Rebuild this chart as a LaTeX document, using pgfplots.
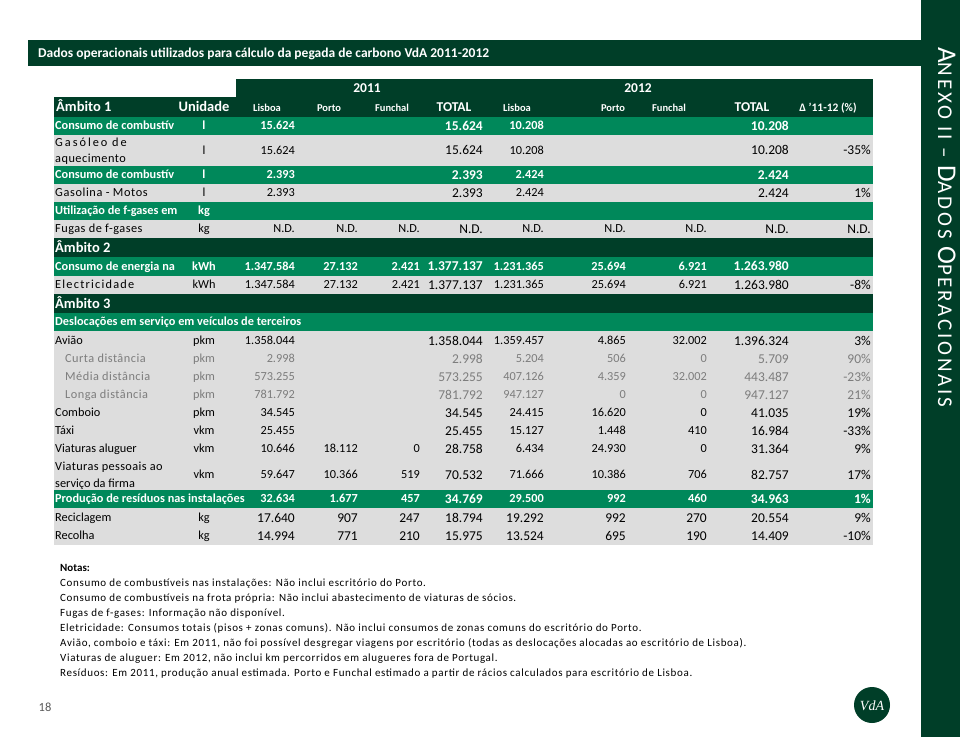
\documentclass[border=0pt]{standalone}
\usepackage{fontspec}
\setmainfont{Carlito}
\newfontfamily\logofont{Liberation Serif}
\usepackage{pgfplots}
\pgfplotsset{compat=1.18}
\definecolor{dkg}{RGB}{0,62,40}
\definecolor{mdg}{RGB}{0,136,90}
\definecolor{lgr}{RGB}{221,221,221}
\definecolor{txg}{RGB}{125,125,125}
\definecolor{pgn}{RGB}{90,90,90}
\newcommand{\lsp}[1]{\addfontfeature{LetterSpace=#1}}
\tikzset{
 c/.style={inner sep=0pt, text height=7.9pt, text depth=0pt},
 wb/.style={c, text=white, font=\bfseries\fontsize{12.3}{12.3}\selectfont},
 wbT/.style={c, text=white, font=\bfseries\fontsize{13.5}{13.5}\selectfont, text height=8.7pt},
 wbH/.style={c, text=white, font=\bfseries\fontsize{14.5}{14.5}\selectfont, text height=9.3pt},
 k/.style={c, text=black, font=\fontsize{12.3}{12.3}\selectfont},
 kT/.style={c, text=black, font=\fontsize{13.5}{13.5}\selectfont, text height=8.7pt},
 g/.style={c, text=txg, font=\fontsize{12.3}{12.3}\selectfont},
 gT/.style={c, text=txg, font=\fontsize{13.5}{13.5}\selectfont, text height=8.7pt},
 hd/.style={c, text=white, font=\bfseries\fontsize{10.5}{10.5}\selectfont, text height=6.8pt},
 nt/.style={inner sep=0pt, anchor=base west, font=\fontsize{11}{11}\selectfont\addfontfeature{LetterSpace=6}},
}
\newcommand{\vA}[7]{%
 \node[anchor=east,#2] at (295,#1) {#4};
 \node[anchor=east,#2] at (358,#1) {#5};
 \node[anchor=east,#2] at (420,#1) {#6};
 \node[anchor=east,#3] at (483,#1) {#7};}
\newcommand{\vB}[8]{%
 \node[anchor=east,#2] at (544,#1) {#4};
 \node[anchor=east,#2] at (626,#1) {#5};
 \node[anchor=east,#2] at (707,#1) {#6};
 \node[anchor=east,#3] at (789,#1) {#7};
 \node[anchor=east,#3] at (871,#1) {#8};}
\newcommand{\lb}[3]{\node[anchor=west,#2] at (55,#1) {#3};}
\newcommand{\un}[3]{\node[#2] at (204,#1) {#3};}
\begin{document}
\begin{tikzpicture}
\begin{axis}[width=960pt,height=737pt,scale only axis,xmin=0,xmax=960,ymin=0,ymax=737,
  y dir=reverse,hide axis,clip=false]
\fill[white] (0,0) rectangle (960,737);
% frame
\fill[dkg] (28,40) rectangle (921,66);
\fill[dkg] (921,0) rectangle (960,737);
\node[anchor=west,inner sep=0pt,text=white,font=\bfseries\fontsize{13.5}{13.5}\selectfont,text height=8.7pt,text depth=0pt] at (38,53) {Dados operacionais utilizados para cálculo da pegada de carbono VdA 2011-2012};
% table backgrounds
\fill[dkg] (236,79) rectangle (873,97);
\fill[dkg] (54,97) rectangle (873,117);
\fill[mdg] (54,117) rectangle (873,135);
\fill[lgr] (54,135) rectangle (873,166);
\fill[mdg] (54,166) rectangle (873,184);
\fill[lgr] (54,184) rectangle (873,202);
\fill[mdg] (54,202) rectangle (873,220);
\fill[lgr] (54,220) rectangle (873,238);
\fill[dkg] (54,238) rectangle (873,257);
\fill[mdg] (54,257) rectangle (873,276);
\fill[lgr] (54,276) rectangle (873,294);
\fill[dkg] (54,294) rectangle (873,313);
\fill[mdg] (54,313) rectangle (873,331);
\fill[lgr] (54,331) rectangle (873,490);
\fill[mdg] (54,490) rectangle (873,508);
\fill[lgr] (54,508) rectangle (873,545);
% header
\node[wbT] at (367,88) {2011};
\node[wbT] at (638,88) {2012};
\node[anchor=west,wbH] at (56,107) {Âmbito 1};
\node[wbH] at (204,107) {Unidade};
\node[hd] at (267,108) {Lisboa};
\node[hd] at (329,108) {Porto};
\node[hd] at (392,108) {Funchal};
\node[wbT] at (454,107) {TOTAL};
\node[hd] at (517,108) {Lisboa};
\node[hd] at (613,108) {Porto};
\node[hd] at (669,108) {Funchal};
\node[wbT] at (752,107) {TOTAL};
\node[hd,font=\bfseries\fontsize{11.5}{11.5}\selectfont] at (828,108) {Δ '11-12 (\%)};
% rows
\lb{126}{wb}{Consumo de combustív}\un{126}{wb}{l}
\vA{126}{wb}{wbT}{15.624}{}{}{15.624}\vB{126}{wb}{wbT}{10.208}{}{}{10.208}{}
\lb{143}{k}{\lsp{16}Gasóleo de}\lb{159}{k}{\lsp{4}aquecimento}\un{150.5}{k}{l}
\vA{150.5}{k}{kT}{15.624}{}{}{15.624}\vB{150.5}{k}{kT}{10.208}{}{}{10.208}{-35\%}
\lb{175}{wb}{Consumo de combustív}\un{175}{wb}{l}
\vA{175}{wb}{wbT}{2.393}{}{}{2.393}\vB{175}{wb}{wbT}{2.424}{}{}{2.424}{}
\lb{193}{k}{\lsp{5}Gasolina - Motos}\un{193}{k}{l}
\vA{193}{k}{kT}{2.393}{}{}{2.393}\vB{193}{k}{kT}{2.424}{}{}{2.424}{1\%}
\lb{211}{wb}{Utilização de f-gases em}\un{211}{wb}{kg}
\lb{229}{k}{\lsp{4}Fugas de f-gases}\un{229}{k}{kg}
\vA{229}{k}{kT}{N.D.}{N.D.}{N.D.}{N.D.}\vB{229}{k}{kT}{N.D.}{N.D.}{N.D.}{N.D.}{N.D.}
\lb{247.5}{wbH}{Âmbito 2}
\lb{266.5}{wb}{Consumo de energia na}\un{266.5}{wb}{kWh}
\vA{266.5}{wb}{wbT}{1.347.584}{27.132}{2.421}{1.377.137}\vB{266.5}{wb}{wbT}{1.231.365}{25.694}{6.921}{1.263.980}{}
\lb{285}{k}{\lsp{10}Electricidade}\un{285}{k}{kWh}
\vA{285}{k}{kT}{1.347.584}{27.132}{2.421}{1.377.137}\vB{285}{k}{kT}{1.231.365}{25.694}{6.921}{1.263.980}{-8\%}
\lb{303.5}{wbH}{Âmbito 3}
\lb{322}{wb}{Deslocações em serviço em veículos de terceiros}
\lb{341}{k}{Avião}\un{341}{k}{pkm}
\vA{341}{k}{kT}{1.358.044}{}{}{1.358.044}\vB{341}{k}{kT}{1.359.457}{4.865}{32.002}{1.396.324}{3\%}
\node[anchor=west,g] at (65,359) {\lsp{4}Curta distância};\un{359}{g}{pkm}
\vA{359}{g}{gT}{2.998}{}{}{2.998}\vB{359}{g}{gT}{5.204}{506}{0}{5.709}{90\%}
\node[anchor=west,g] at (65,377) {\lsp{4}Média distância};\un{377}{g}{pkm}
\vA{377}{g}{gT}{573.255}{}{}{573.255}\vB{377}{g}{gT}{407.126}{4.359}{32.002}{443.487}{-23\%}
\node[anchor=west,g] at (65,395) {\lsp{4}Longa distância};\un{395}{g}{pkm}
\vA{395}{g}{gT}{781.792}{}{}{781.792}\vB{395}{g}{gT}{947.127}{0}{0}{947.127}{21\%}
\lb{413}{k}{Comboio}\un{413}{k}{pkm}
\vA{413}{k}{kT}{34.545}{}{}{34.545}\vB{413}{k}{kT}{24.415}{16.620}{0}{41.035}{19\%}
\lb{431}{k}{Táxi}\un{431}{k}{vkm}
\vA{431}{k}{kT}{25.455}{}{}{25.455}\vB{431}{k}{kT}{15.127}{1.448}{410}{16.984}{-33\%}
\lb{449}{k}{Viaturas aluguer}\un{449}{k}{vkm}
\vA{449}{k}{kT}{10.646}{18.112}{0}{28.758}\vB{449}{k}{kT}{6.434}{24.930}{0}{31.364}{9\%}
\lb{467}{k}{\lsp{3}Viaturas pessoais ao}\lb{484}{k}{serviço da firma}\un{475}{k}{vkm}
\vA{475}{k}{kT}{59.647}{10.366}{519}{70.532}\vB{475}{k}{kT}{71.666}{10.386}{706}{82.757}{17\%}
\lb{499}{wb}{Produção de resíduos nas instalações}
\vA{499}{wb}{wbT}{32.634}{1.677}{457}{34.769}\vB{499}{wb}{wbT}{29.500}{992}{460}{34.963}{1\%}
\lb{518}{k}{Reciclagem}\un{518}{k}{kg}
\vA{518}{kT}{kT}{17.640}{907}{247}{18.794}\vB{518}{kT}{kT}{19.292}{992}{270}{20.554}{9\%}
\lb{536}{k}{Recolha}\un{536}{k}{kg}
\vA{536}{kT}{kT}{14.994}{771}{210}{15.975}\vB{536}{kT}{kT}{13.524}{695}{190}{14.409}{-10\%}
% notes
\node[nt,font=\bfseries\fontsize{11}{11}\selectfont] at (60,571) {Notas:};
\node[nt] at (60,586) {Consumo de combustíveis nas instalações: Não inclui escritório do Porto.};
\node[nt] at (60,601) {Consumo de combustíveis na frota própria: Não inclui abastecimento de viaturas de sócios.};
\node[nt] at (60,616) {Fugas de f-gases: Informação não disponível.};
\node[nt] at (60,631) {Eletricidade: Consumos totais (pisos + zonas comuns). Não inclui consumos de zonas comuns do escritório do Porto.};
\node[nt] at (60,646) {Avião, comboio e táxi: Em 2011, não foi possível desgregar viagens por escritório (todas as deslocações alocadas ao escritório de Lisboa).};
\node[nt] at (60,661) {Viaturas de aluguer: Em 2012, não inclui km percorridos em alugueres fora de Portugal.};
\node[nt] at (60,676) {Resíduos: Em 2011, produção anual estimada. Porto e Funchal estimado a partir de rácios calculados para escritório de Lisboa.};
% page number, side title, logo
\node[c,text=pgn,font=\fontsize{12.5}{12.5}\selectfont] at (45,708) {18};
\node[rotate=-90,anchor=base west,inner sep=0pt,text=white] at (938,47)
 {\addfontfeature{LetterSpace=13}\fontsize{27}{27}\selectfont A\fontsize{21}{21}\selectfont NEXO II – \fontsize{27}{27}\selectfont D\fontsize{21}{21}\selectfont ADOS \fontsize{27}{27}\selectfont O\fontsize{21}{21}\selectfont PERACIONAIS};
\fill[dkg] (872,705) circle[radius=18pt];
\node[text=white,inner sep=0pt,font=\logofont\itshape\fontsize{14}{14}\selectfont] at (872,706) {VdA};
\end{axis}
\end{tikzpicture}
\end{document}
